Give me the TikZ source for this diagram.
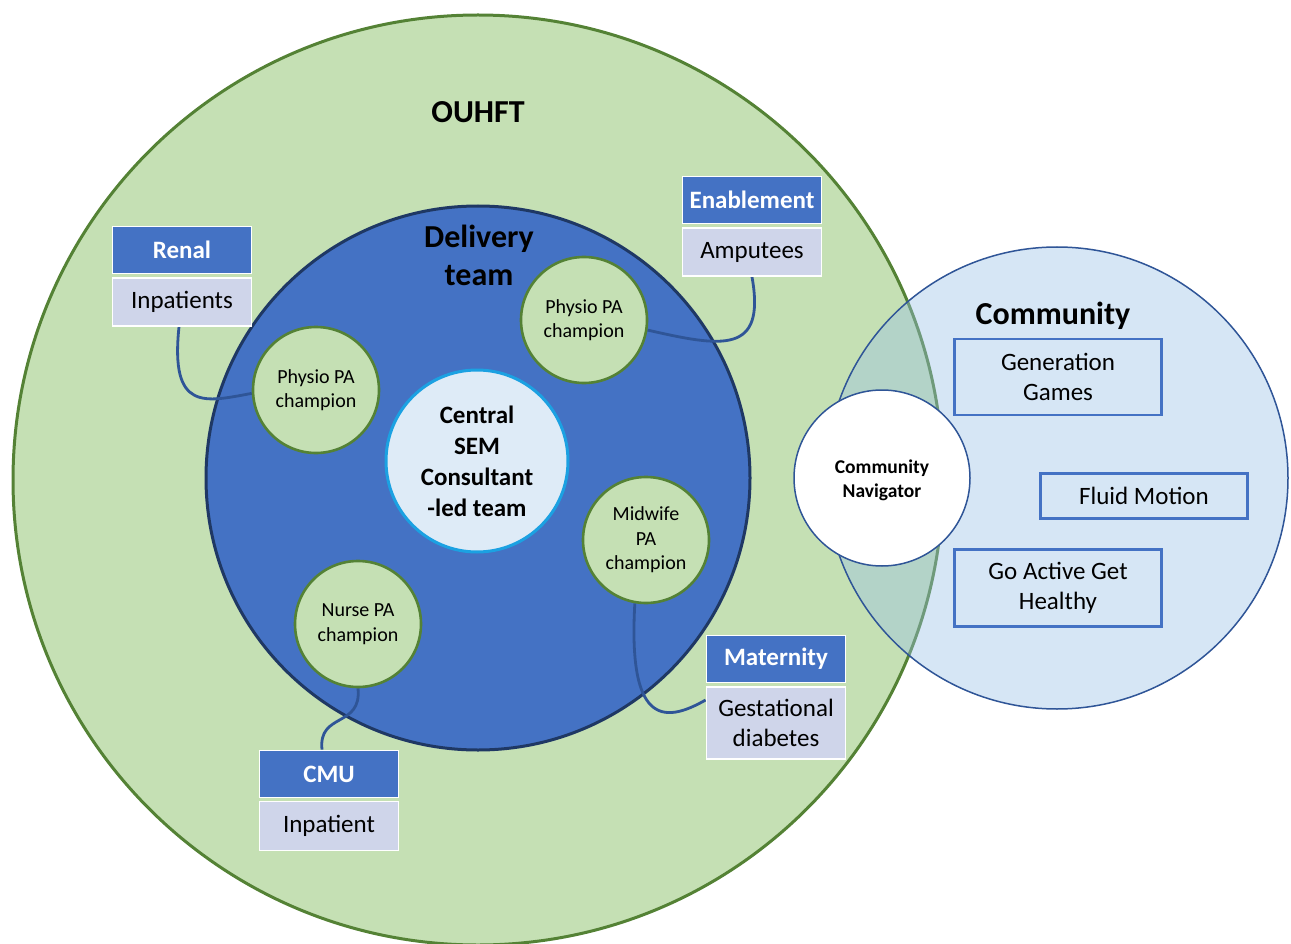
\documentclass[tikz,border=0pt]{standalone}
\usepackage{fontspec}
\setmainfont{Carlito}
\definecolor{ogreen}{HTML}{C5E0B4}
\definecolor{ogreenline}{HTML}{548235}
\definecolor{dblue}{HTML}{4472C4}
\definecolor{navy}{HTML}{1F3864}
\definecolor{lineblue}{HTML}{2F5597}
\definecolor{subfill}{HTML}{CFD5EA}
\definecolor{centralfill}{HTML}{DEEBF7}
\definecolor{cyanb}{HTML}{1BA1E2}
\definecolor{commfill}{HTML}{98C0E6}
\pgfdeclarelayer{bglayer}
\pgfdeclarelayer{connlayer}
\pgfsetlayers{bglayer,connlayer,main}
\tikzset{
  champ/.style={circle, minimum size=126pt, inner sep=0pt, fill=ogreen, draw=ogreenline, line width=2.6pt, align=center, font=\fontsize{20}{24.5}\selectfont},
  headbox/.style={rectangle, minimum width=139pt, minimum height=47pt, inner sep=0pt, fill=dblue, draw=white, line width=1.8pt, text=white, font=\fontsize{25}{30}\selectfont\bfseries},
  subbox/.style={rectangle, minimum width=139pt, inner sep=0pt, fill=subfill, draw=white, line width=1.8pt, align=center, font=\fontsize{25}{30}\selectfont},
  commbox/.style={rectangle, minimum width=207pt, inner sep=0pt, draw=dblue, line width=2.6pt, align=center, font=\fontsize{25}{30}\selectfont},
  link/.style={draw=lineblue, line width=2.8pt},
  title/.style={align=center, font=\fontsize{32}{38}\selectfont\bfseries}
}
\begin{document}
\begin{tikzpicture}[x=1pt,y=-1pt]
\useasboundingbox (0,0) rectangle (1291,944);
\begin{pgfonlayer}{bglayer}
% big circles
\node[circle, minimum size=930pt, inner sep=0pt, fill=ogreen, draw=ogreenline, line width=3pt] (ouhft) at (478,480) {};
\node[circle, minimum size=462pt, inner sep=0pt, fill=commfill, fill opacity=0.4, draw=lineblue, draw opacity=1, line width=1.5pt] (comm) at (1057,478) {};
\node[circle, minimum size=544pt, inner sep=0pt, fill=dblue, draw=navy, line width=3pt] (deliv) at (478,478) {};
\end{pgfonlayer}
\node[circle, minimum size=182pt, inner sep=0pt, fill=centralfill, draw=cyanb, line width=3pt, align=center, font=\fontsize{25}{31}\selectfont\bfseries] (central) at (477,461) {Central\\SEM\\Consultant\\-led team};
% titles
\node[title] (ouhftlbl) at (478,112) {OUHFT};
\node[title] (delivlbl) at (479,255) {Delivery\\team};
\node[title] (commlbl) at (1053,316) {Community};
% navigator
\node[circle, minimum size=176pt, inner sep=0pt, fill=white, draw=lineblue, line width=1.5pt, align=center, font=\fontsize{19.5}{24}\selectfont\bfseries] (nav) at (882,478) {};
\node[align=center, font=\fontsize{19.5}{24}\selectfont\bfseries] (navlbl) at (882,480) {Community\\Navigator};
% community boxes
\node[commbox, minimum height=76pt] (gen) at (1058,377) {Generation\\Games};
\node[commbox, minimum height=45pt] (fluid) at (1144,496) {Fluid Motion};
\node[commbox, minimum height=77pt] (goact) at (1058,588) {Go Active Get\\Healthy};
% side boxes
\node[headbox] (renalh) at (182,250) {Renal};
\node[subbox, minimum height=48pt] (renals) at (182,302) {Inpatients};
\node[headbox] (enabh) at (752,200) {Enablement};
\node[subbox, minimum height=48pt] (enabs) at (752,252) {Amputees};
\node[headbox] (math) at (776,659) {Maternity};
\node[subbox, minimum height=72pt] (mats) at (776,723) {Gestational\\diabetes};
\node[headbox] (cmuh) at (329,774) {CMU};
\node[subbox, minimum height=49pt] (cmus) at (329,826) {Inpatient};
% champion circles
\node[champ] (physL) at (316,390) {Physio PA\\champion};
\node[champ] (physT) at (584,320) {Physio PA\\champion};
\node[champ] (midw) at (646,540) {Midwife\\PA\\champion};
\node[champ] (nurse) at (358,624) {Nurse PA\\champion};
% connectors (drawn behind circles and boxes)
\begin{pgfonlayer}{connlayer}
\draw[link] ([xshift=-3pt]renals.south) .. controls (170,412) and (205,402) .. (physL.183);
\draw[link] (enabs.south) .. controls (766,355) and (722,347) .. (physT.-9);
\draw[link] (midw.-100) .. controls (628,722) and (662,725) .. ([yshift=23pt]mats.west);
\draw[link] (nurse.south) .. controls (362,728) and (318,712) .. ([xshift=-7pt]cmuh.north);
\end{pgfonlayer}
\end{tikzpicture}
\end{document}
